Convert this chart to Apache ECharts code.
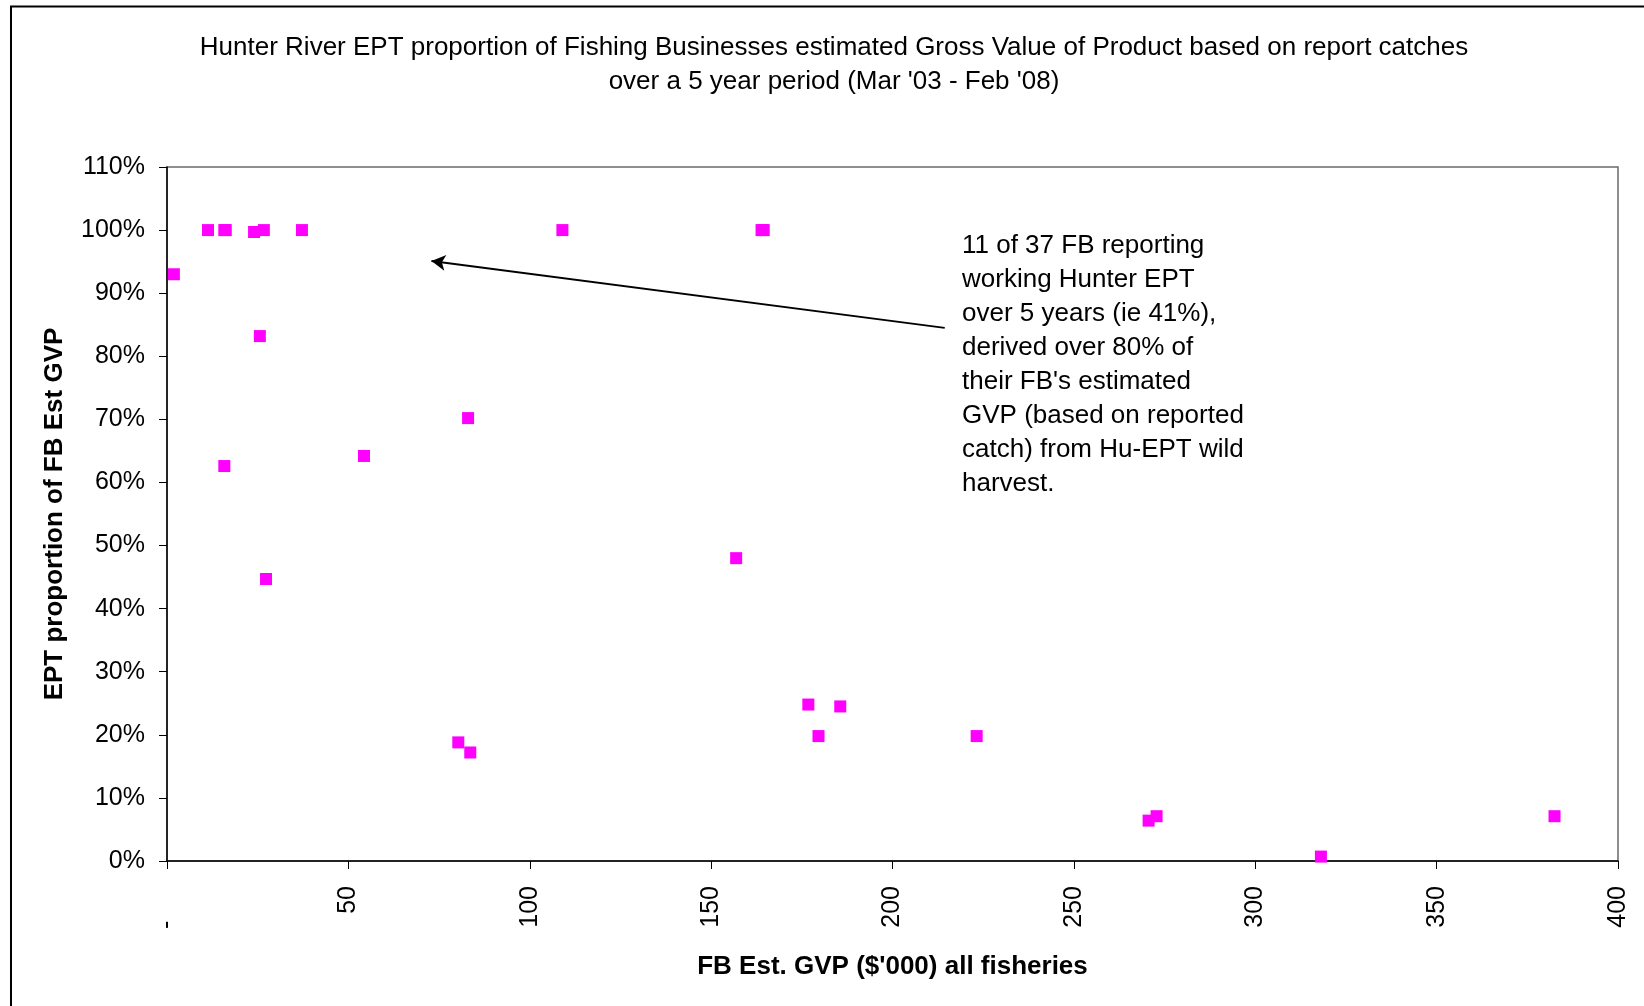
<!DOCTYPE html>
<html>
<head>
<meta charset="utf-8">
<script src="https://cdn.jsdelivr.net/npm/echarts@6/dist/echarts.min.js"></script>
<style>
html,body{margin:0;padding:0;background:#fff;}
#c{width:1644px;height:1006px;}
</style>
</head>
<body>
<div id="c"></div>
<script>
// ---- data ----
var titleLines = ["Hunter River EPT proportion of Fishing Businesses estimated Gross Value of Product based on report catches",
                  "over a 5 year period (Mar '03 - Feb '08)"];
var xAxisTitle = "FB Est. GVP ($'000) all fisheries";
var yAxisTitle = "EPT proportion of FB Est GVP";
// FB Est. GVP ($'000) all fisheries
var gvp = [1.9, 11.3, 15.8, 16.2, 24.0, 26.7, 37.2, 109.0, 163.9, 164.5,
           25.6, 83.0, 54.3, 15.8, 156.9, 27.3, 176.8, 185.6, 179.6, 223.2,
           80.3, 83.6, 270.6, 272.8, 382.5, 318.1];
// EPT proportion of FB Est GVP
var eptShare = [0.930, 1.0, 1.0, 1.0, 0.997, 1.0, 1.0, 1.0, 1.0, 1.0,
                0.832, 0.702, 0.642, 0.626, 0.480, 0.447, 0.248, 0.245, 0.198, 0.198,
                0.188, 0.172, 0.064, 0.071, 0.071, 0.007];
var xTicks = [0, 50, 100, 150, 200, 250, 300, 350, 400];
var yTicks = [0, 0.1, 0.2, 0.3, 0.4, 0.5, 0.6, 0.7, 0.8, 0.9, 1.0, 1.1];
var noteLines = ["11 of 37 FB reporting", "working Hunter EPT", "over 5 years (ie 41%),",
                 "derived over 80% of", "their FB's estimated", "GVP (based on reported",
                 "catch) from Hu-EPT wild", "harvest."];
// annotation arrow, in data units [x, share]
var arrowFrom = [214.4, 0.845];
var arrowTo = [72.9, 0.951];

var FONT = "'Liberation Sans', Arial, sans-serif";
var points = gvp.map(function (v, i) { return [v, eptShare[i]]; });

var chart = echarts.init(document.getElementById('c'), null, {renderer: 'canvas'});
chart.setOption({
  animation: false,
  backgroundColor: '#ffffff',
  title: {
    text: titleLines.join('\n'),
    left: 829,
    top: 26,
    textAlign: 'center',
    textStyle: {fontFamily: FONT, fontSize: 26, fontWeight: 'normal', color: '#000', lineHeight: 34}
  },
  graphic: [
    {type: 'rect', left: 8.5, top: 4, silent: true,
     shape: {x: 0, y: 0, width: 1700, height: 1100},
     style: {fill: 'none', stroke: '#000', lineWidth: 2}},
    {type: 'text', left: 962, top: 229, silent: true,
     style: {text: noteLines.join('\n'), font: '26px ' + FONT, fill: '#000', lineHeight: 34}}
  ],
  grid: {left: 167, right: 26, top: 167, bottom: 145, show: true,
         borderColor: '#6a6a6a', borderWidth: 1.5, backgroundColor: 'transparent'},
  xAxis: {
    type: 'value', min: 0, max: 400, interval: 50,
    name: xAxisTitle, nameLocation: 'middle', nameGap: 93,
    nameTextStyle: {fontFamily: FONT, fontSize: 26, fontWeight: 'bold', color: '#000'},
    axisLine: {show: true, onZero: false, lineStyle: {color: '#000', width: 1.5}},
    axisTick: {show: true, inside: false, length: 8, lineStyle: {color: '#000', width: 1}},
    splitLine: {show: false},
    axisLabel: {rotate: 90, margin: 25, fontFamily: FONT, fontSize: 25, color: '#000',
      formatter: function (v) { return v === 0 ? '-     ' : String(v); }}
  },
  yAxis: {
    type: 'value', min: 0, max: 1.1, interval: 0.1,
    name: yAxisTitle, nameLocation: 'middle', nameGap: 99,
    nameTextStyle: {fontFamily: FONT, fontSize: 26, fontWeight: 'bold', color: '#000'},
    axisLine: {show: true, lineStyle: {color: '#000', width: 1.5}},
    axisTick: {show: true, inside: false, length: 8, lineStyle: {color: '#000', width: 1}},
    splitLine: {show: false},
    axisLabel: {margin: 22, fontFamily: FONT, fontSize: 25, color: '#000',
      formatter: function (v) { return Math.round(v * 100) + '%'; }}
  },
  series: [{
    type: 'scatter',
    data: points,
    symbol: 'rect',
    symbolSize: 12,
    itemStyle: {color: '#FF00FF', opacity: 1},
    markLine: {
      silent: true, animation: false,
      symbol: ['none', 'arrow'], symbolSize: [12, 14],
      label: {show: false},
      lineStyle: {color: '#000', width: 2, type: 'solid'},
      data: [[{coord: arrowFrom}, {coord: arrowTo}]]
    }
  }]
});
</script>
</body>
</html>
